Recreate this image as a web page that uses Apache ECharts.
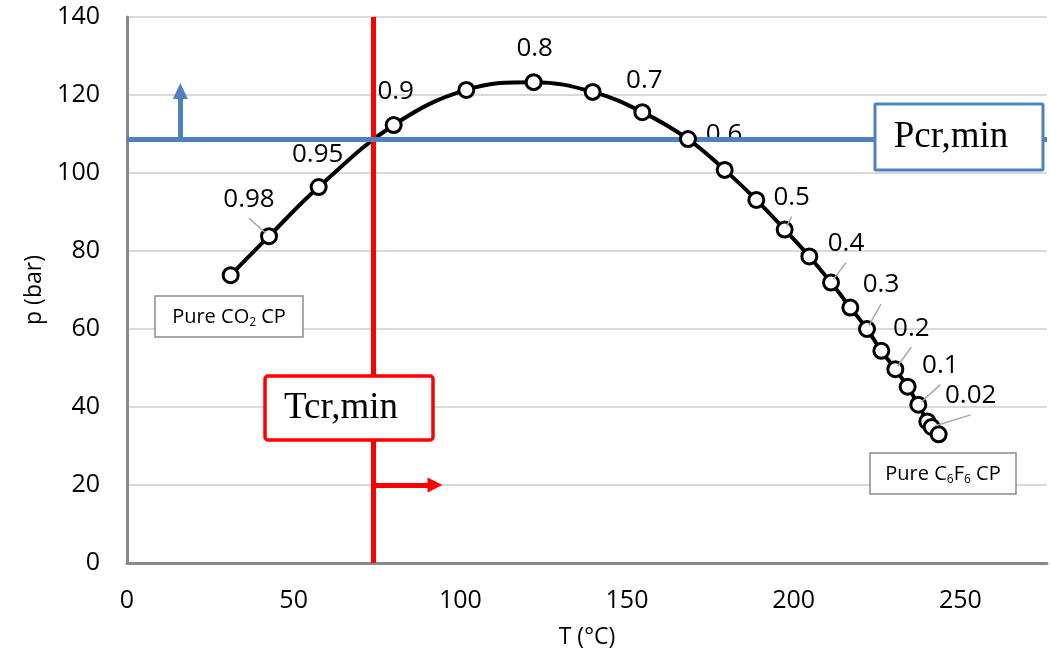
<!DOCTYPE html>
<html>
<head>
<meta charset="utf-8">
<script src="https://cdn.jsdelivr.net/npm/echarts@6/dist/echarts.min.js"></script>
<style>
html,body{margin:0;padding:0;background:#fff;}
#chart{width:1050px;height:661px;}
</style>
</head>
<body>
<div id="chart"></div>
<script>
// ---- data ----
const temperatureC = [31.1, 42.6, 57.5, 80.0, 101.8, 122.0, 139.7, 154.6, 168.3, 179.3, 188.8, 197.3, 204.7, 211.2, 217.0, 222.0, 226.3, 230.5, 234.2, 237.4, 240.1, 241.4, 243.5];
const pressureBar  = [73.8, 83.8, 96.4, 112.3, 121.3, 123.3, 120.8, 115.6, 108.7, 100.8, 93.1, 85.5, 78.6, 71.9, 65.5, 60.0, 54.4, 49.7, 45.2, 40.6, 36.3, 34.9, 33.0];
const moleFractionLabels = ['', '0.98', '0.95', '0.9', '', '0.8', '', '0.7', '0.6', '', '', '0.5', '', '0.4', '', '0.3', '', '0.2', '', '0.1', '', '0.02', ''];
const xTicks = [0, 50, 100, 150, 200, 250];
const yTicks = [0, 20, 40, 60, 80, 100, 120, 140];
const TcrMin = 74.0;
const pcrMin = 108.7;
const pArrowTo = 121.0, pArrowAt = 16;     // blue arrow
const TArrowTo = 92.4, TArrowAt = 20;      // red arrow

// ---- label layout (pixel offsets from the point; style only) ----
const labelOffset = {
  '0.98': [-20, -37, true], '0.95': [-1, -32, false], '0.9': [2, -33, false],
  '0.8': [1, -34, false], '0.7': [2, -32, false], '0.6': [36, -4, false],
  '0.5': [7, -32, true], '0.4': [15, -39, true], '0.3': [14, -44, true],
  '0.2': [16, -41, true], '0.1': [22, -39, true], '0.02': [39, -31, true]
};

const FONT = '"Open Sans", "Noto Sans", sans-serif';
const SERIF = '"Liberation Serif", "DejaVu Serif", serif';

const chart = echarts.init(document.getElementById('chart'));

const pts = temperatureC.map((t, i) => [t, pressureBar[i]]);
const labelData = [];
moleFractionLabels.forEach((s, i) => { if (s) labelData.push([temperatureC[i], pressureBar[i], s]); });

const option = {
  animation: false,
  backgroundColor: '#fff',
  grid: { left: 127, top: 17, right: 1, bottom: 98, containLabel: false },
  xAxis: {
    type: 'value', min: xTicks[0], max: 276, interval: 50,
    name: 'T (°C)', nameLocation: 'middle', nameGap: 63,
    nameTextStyle: { fontFamily: FONT, fontSize: 23, color: '#000' },
    axisLine: { show: true, lineStyle: { color: '#898989', width: 3 } },
    axisTick: { show: false },
    splitLine: { show: false },
    axisLabel: { fontFamily: FONT, fontSize: 25, color: '#000', margin: 25,
      formatter: v => xTicks.includes(v) ? String(v) : '' }
  },
  yAxis: {
    type: 'value', min: yTicks[0], max: yTicks[yTicks.length - 1], interval: 20,
    name: 'p (bar)', nameLocation: 'middle', nameGap: 78, nameRotate: 90,
    nameTextStyle: { fontFamily: FONT, fontSize: 23, color: '#000' },
    axisLine: { show: true, lineStyle: { color: '#898989', width: 3 } },
    axisTick: { show: false },
    splitLine: { show: true, lineStyle: { color: '#D9D9D9', width: 2 } },
    axisLabel: { fontFamily: FONT, fontSize: 25, color: '#000', margin: 27 }
  },
  series: [
    { // smooth curve
      type: 'line', data: pts, smooth: 0.4, showSymbol: false, symbol: 'none',
      lineStyle: { color: '#000', width: 4 }, z: 2, silent: true
    },
    { // mole fraction labels
      type: 'custom', z: 3, silent: true, data: labelData,
      renderItem: function (params, api) {
        const c = api.coord([api.value(0), api.value(1)]);
        const txt = labelData[params.dataIndex][2];
        const o = labelOffset[txt] || [0, -32, false];
        const lx = c[0] + o[0], ly = c[1] + o[1];
        return {
          type: 'text', z2: 1,
          style: { x: lx, y: ly, text: txt, fill: '#000', font: '26px ' + FONT,
                   textAlign: 'center', textVerticalAlign: 'middle' }
        };
      }
    },
    { // red vertical line
      type: 'line', data: [], z: 4,
      markLine: {
        silent: true, symbol: ['none', 'none'], label: { show: false },
        lineStyle: { color: '#FF0000', width: 5, type: 'solid' },
        data: [ { xAxis: TcrMin } ]
      }
    },
    { // red arrow
      type: 'line', data: [], z: 4,
      markLine: {
        silent: true, symbol: ['none', 'triangle'], symbolSize: [15, 15], label: { show: false },
        lineStyle: { color: '#FF0000', width: 5, type: 'solid' },
        data: [ [ { coord: [TcrMin, TArrowAt] }, { coord: [TArrowTo, TArrowAt] } ] ]
      }
    },
    { // blue horizontal line
      type: 'line', data: [], z: 4,
      markLine: {
        silent: true, symbol: ['none', 'none'], label: { show: false },
        lineStyle: { color: '#4F81BD', width: 5, type: 'solid' },
        data: [ { yAxis: pcrMin } ]
      }
    },
    { // blue arrow
      type: 'line', data: [], z: 4,
      markLine: {
        silent: true, symbol: ['none', 'triangle'], symbolSize: [15, 16], label: { show: false },
        lineStyle: { color: '#4F81BD', width: 5, type: 'solid' },
        data: [ [ { coord: [pArrowAt, pcrMin] }, { coord: [pArrowAt, pArrowTo] } ] ]
      }
    },
    { // markers
      type: 'scatter', data: pts, z: 5, symbol: 'circle', symbolSize: 15,
      itemStyle: { color: '#fff', borderColor: '#000', borderWidth: 3, opacity: 1 },
      silent: true
    },
    { // leader lines
      type: 'custom', z: 6, silent: true, data: labelData,
      renderItem: function (params, api) {
        const c = api.coord([api.value(0), api.value(1)]);
        const txt = labelData[params.dataIndex][2];
        const o = labelOffset[txt];
        if (!o || !o[2]) return null;
        const sx = c[0] + o[0], sy = c[1] + o[1] + 19;
        const dx = c[0] - sx, dy = c[1] - sy;
        const len = Math.sqrt(dx * dx + dy * dy);
        const ex = c[0] - dx / len * 4, ey = c[1] - dy / len * 4;
        return {
          type: 'line',
          shape: { x1: sx, y1: sy, x2: ex, y2: ey },
          style: { stroke: '#A6A6A6', lineWidth: 1.5 }
        };
      }
    }
  ],
  graphic: [
    { type: 'rect', z: 100, shape: { x: 265, y: 376, width: 168, height: 64, r: 3 },
      style: { fill: '#fff', stroke: '#FF0000', lineWidth: 3.5 } },
    { type: 'text', z: 101, style: { x: 341, y: 408, text: 'Tcr,min', fill: '#000',
      font: '37px ' + SERIF, textAlign: 'center', textVerticalAlign: 'middle' } },
    { type: 'rect', z: 100, shape: { x: 875, y: 104, width: 168, height: 66, r: 1 },
      style: { fill: '#fff', stroke: '#4F81BD', lineWidth: 3 } },
    { type: 'text', z: 101, style: { x: 951, y: 137, text: 'Pcr,min', fill: '#000',
      font: '37px ' + SERIF, textAlign: 'center', textVerticalAlign: 'middle' } },
    { type: 'rect', z: 100, shape: { x: 155, y: 296, width: 148, height: 41 },
      style: { fill: '#fff', stroke: '#8C8C8C', lineWidth: 1.5 } },
    { type: 'text', z: 101, style: { x: 229, y: 317, fill: '#000',
      text: 'Pure CO{s|2} CP', font: '20px ' + FONT, textAlign: 'center', textVerticalAlign: 'middle',
      rich: { s: { fontSize: 12, fontFamily: FONT, padding: [11, 0, 0, 0], fill: '#000' } } } },
    { type: 'rect', z: 100, shape: { x: 870, y: 453, width: 146, height: 41 },
      style: { fill: '#fff', stroke: '#8C8C8C', lineWidth: 1.5 } },
    { type: 'text', z: 101, style: { x: 943, y: 474, fill: '#000',
      text: 'Pure C{s|6}F{s|6} CP', font: '20px ' + FONT, textAlign: 'center', textVerticalAlign: 'middle',
      rich: { s: { fontSize: 12, fontFamily: FONT, padding: [11, 0, 0, 0], fill: '#000' } } } }
  ]
};
chart.setOption(option);
</script>
</body>
</html>
